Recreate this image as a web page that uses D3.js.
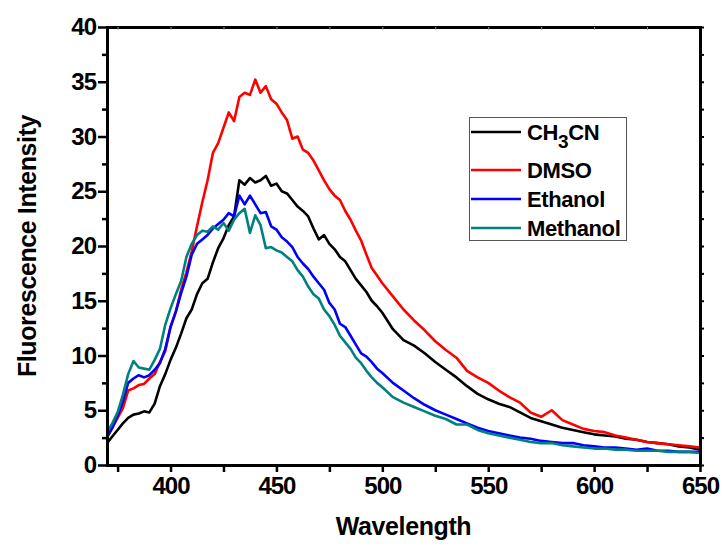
<!DOCTYPE html>
<html>
<head>
<meta charset="utf-8">
<script src="https://cdn.jsdelivr.net/npm/d3@7"></script>
<style>
  body { margin: 0; background: #fff; }
  text { font-family: "Liberation Sans", Arial, sans-serif; font-weight: bold; }
</style>
</head>
<body>
<div id="chart"></div>
<script>
// wavelength grid: 2.5 nm steps up to 500, 5 nm after
var wavelengths = d3.range(370, 500, 2.5).concat(d3.range(500, 651, 5));

var ch3cn = [2.0, 2.6, 3.2, 3.8, 4.3, 4.6, 4.7, 4.9, 4.8, 5.6, 7.2, 8.3, 9.6, 10.7, 12.0, 13.4, 14.2, 15.6, 16.6, 17.0,
  18.5, 19.8, 20.7, 21.9, 22.7, 26.0, 25.6, 26.2, 25.8, 26.0, 26.4, 25.5, 25.7, 25.0, 24.8, 24.2, 23.6, 23.2, 22.7, 21.6,
  20.6, 21.0, 20.2, 19.7, 19.0, 18.6, 17.8, 17.0, 16.4, 15.8, 15.0, 14.5,
  13.9, 12.4, 11.4, 10.9, 10.2, 9.4, 8.7, 8.0, 7.2, 6.5, 6.0, 5.6, 5.3, 4.8, 4.3, 4.0, 3.7, 3.4, 3.2, 3.0,
  2.8, 2.7, 2.6, 2.4, 2.3, 2.1, 2.0, 1.9, 1.7, 1.6, 1.4];

var dmso = [2.6, 3.4, 4.3, 5.2, 6.8, 7.0, 7.3, 7.4, 7.9, 8.3, 9.4, 10.4, 12.6, 14.0, 16.0, 17.6, 19.5, 21.8, 24.0, 26.0,
  28.5, 29.4, 30.8, 32.2, 31.4, 33.6, 34.0, 33.8, 35.2, 34.0, 34.6, 33.4, 33.0, 32.2, 31.5, 29.8, 30.0, 28.8, 28.5, 27.8,
  26.9, 26.0, 25.2, 24.6, 24.2, 23.2, 22.4, 21.4, 20.5, 19.2, 18.0, 17.3,
  16.6, 15.4, 14.2, 13.2, 12.3, 11.3, 10.5, 9.8, 8.6, 8.0, 7.5, 6.8, 6.2, 5.7, 4.8, 4.4, 5.0, 4.1, 3.7, 3.3,
  3.1, 3.0, 2.7, 2.5, 2.3, 2.1, 2.0, 1.9, 1.8, 1.7, 1.6];

var ethanol = [2.5, 3.4, 4.5, 5.8, 7.5, 7.9, 8.2, 8.0, 8.2, 8.7, 9.3, 10.6, 12.6, 14.0, 15.7, 17.2, 19.2, 20.2, 20.6, 21.0,
  21.6, 22.0, 22.4, 23.0, 22.7, 24.6, 23.8, 24.6, 23.8, 23.0, 23.1, 21.8, 21.5, 20.8, 20.4, 19.9, 19.0, 18.4, 17.9, 17.2,
  16.6, 16.0, 14.8, 14.2, 12.9, 12.6, 11.8, 11.0, 10.2, 9.9, 9.4, 8.8,
  8.4, 7.5, 6.8, 6.1, 5.5, 5.0, 4.6, 4.2, 3.8, 3.4, 3.1, 2.9, 2.7, 2.5, 2.4, 2.2, 2.1, 2.0, 2.0, 1.8,
  1.7, 1.6, 1.6, 1.5, 1.4, 1.5, 1.3, 1.3, 1.2, 1.2, 1.2];

var methanol = [3.0, 3.8, 4.8, 6.4, 8.3, 9.5, 8.9, 8.8, 8.7, 9.6, 10.6, 12.8, 14.3, 15.6, 16.8, 19.0, 20.2, 21.0, 21.4, 21.3,
  21.8, 21.5, 22.1, 21.4, 22.4, 23.0, 23.4, 21.2, 22.8, 21.9, 19.8, 19.9, 19.6, 19.4, 19.0, 18.6, 17.8, 17.2, 16.3, 15.6,
  15.2, 14.2, 13.6, 12.8, 11.8, 11.2, 10.6, 9.8, 9.3, 8.6, 8.0, 7.5,
  7.1, 6.2, 5.7, 5.3, 4.9, 4.5, 4.2, 3.7, 3.7, 3.2, 2.9, 2.7, 2.5, 2.3, 2.1, 2.0, 2.0, 1.8, 1.7, 1.6,
  1.5, 1.5, 1.4, 1.4, 1.3, 1.3, 1.3, 1.2, 1.2, 1.2, 1.1];

var seriesNames = ['CH3CN', 'DMSO', 'Ethanol', 'Methanol'];
var seriesColors = ['#000000', '#ff0000', '#0000ff', '#008080'];
var seriesValues = [ch3cn, dmso, ethanol, methanol];

var xTicks = [400, 450, 500, 550, 600, 650];
var yTicks = [0, 5, 10, 15, 20, 25, 30, 35, 40];

var width = 723, height = 548;
var plotLeft = 107, plotRight = 700, plotTop = 27, plotBottom = 465;

var svg = d3.select('#chart')
  .append('svg')
    .attr('width', width)
    .attr('height', height);

var x = d3.scaleLinear().domain([370, 650]).range([plotLeft, plotRight]);
var y = d3.scaleLinear().domain([0, 40]).range([plotBottom, plotTop]);

// curves
var line = d3.line()
  .x(function(d) { return x(d[0]); })
  .y(function(d) { return y(d[1]); });

seriesValues.forEach(function(vals, i) {
  svg.append('path')
    .datum(wavelengths.map(function(w, j) { return [w, vals[j]]; }))
    .attr('fill', 'none')
    .attr('stroke', seriesColors[i])
    .attr('stroke-width', 2.6)
    .attr('stroke-linejoin', 'round')
    .attr('d', line);
});

// bottom axis
var xAxis = svg.append('g')
  .attr('transform', 'translate(0,' + plotBottom + ')')
  .call(d3.axisBottom(x).tickValues(d3.range(375, 651, 25)).tickSize(7).tickSizeOuter(0)
    .tickFormat(function(d) { return xTicks.indexOf(d) >= 0 ? d : ''; }));
xAxis.select('.domain').attr('stroke-width', 3);
xAxis.selectAll('.tick line').attr('stroke-width', 2.5);
xAxis.selectAll('.tick text').attr('font-size', 24).attr('dy', '0.8em').attr('letter-spacing', -1);

// left axis
var yAxis = svg.append('g')
  .attr('transform', 'translate(' + plotLeft + ',0)')
  .call(d3.axisLeft(y).tickValues(d3.range(0, 40.1, 2.5)).tickSize(5).tickSizeOuter(0)
    .tickFormat(function(d) { return yTicks.indexOf(d) >= 0 ? d : ''; }));
yAxis.select('.domain').attr('stroke-width', 3);
yAxis.selectAll('.tick line').attr('stroke-width', 2.5);
yAxis.selectAll('.tick').filter(function(d) { return yTicks.indexOf(d) >= 0; })
  .select('line').attr('x2', -9);
yAxis.selectAll('.tick text').attr('font-size', 24).attr('x', -11).attr('letter-spacing', -1);

// top axis (no labels)
var topAxis = svg.append('g')
  .attr('transform', 'translate(0,' + plotTop + ')')
  .call(d3.axisTop(x).tickValues(d3.range(375, 651, 25)).tickSize(-3).tickSizeOuter(0).tickFormat(''));
topAxis.select('.domain').attr('stroke-width', 3);
topAxis.selectAll('.tick line').attr('stroke', '#999');

// right axis (no labels)
var rightAxis = svg.append('g')
  .attr('transform', 'translate(' + plotRight + ',0)')
  .call(d3.axisRight(y).tickValues(d3.range(0, 40.1, 2.5)).tickSize(4).tickSizeOuter(0).tickFormat(''));
rightAxis.select('.domain').attr('stroke-width', 3);
rightAxis.selectAll('.tick line').attr('stroke-width', 2);

svg.selectAll('.domain').attr('stroke-linecap', 'square');

// axis titles
svg.append('text')
  .attr('x', (plotLeft + plotRight) / 2)
  .attr('y', 535)
  .attr('text-anchor', 'middle')
  .attr('font-size', 25)
  .attr('letter-spacing', -0.4)
  .text('Wavelength');

svg.append('text')
  .attr('transform', 'translate(36,' + ((plotTop + plotBottom) / 2) + ') rotate(-90)')
  .attr('text-anchor', 'middle')
  .attr('font-size', 25)
  .attr('letter-spacing', -0.4)
  .text('Fluorescence Intensity');

// legend
var legend = svg.append('g');
legend.append('rect')
  .attr('x', 469.5).attr('y', 117.5)
  .attr('width', 157).attr('height', 123)
  .attr('fill', '#fff')
  .attr('stroke', '#555')
  .attr('stroke-width', 1);

var rowY = [132, 170, 199, 228];
seriesNames.forEach(function(name, i) {
  legend.append('line')
    .attr('x1', 471).attr('x2', 521)
    .attr('y1', rowY[i]).attr('y2', rowY[i])
    .attr('stroke', seriesColors[i])
    .attr('stroke-width', 2.6);
  var t = legend.append('text')
    .attr('x', 527)
    .attr('y', rowY[i] + 8)
    .attr('font-size', 22)
    .attr('letter-spacing', -0.4);
  if (name === 'CH3CN') {
    t.append('tspan').text('CH');
    t.append('tspan').attr('font-size', 19).attr('dy', 8).text('3');
    t.append('tspan').attr('dy', -8).text('CN');
  } else {
    t.text(name);
  }
});
</script>
</body>
</html>
